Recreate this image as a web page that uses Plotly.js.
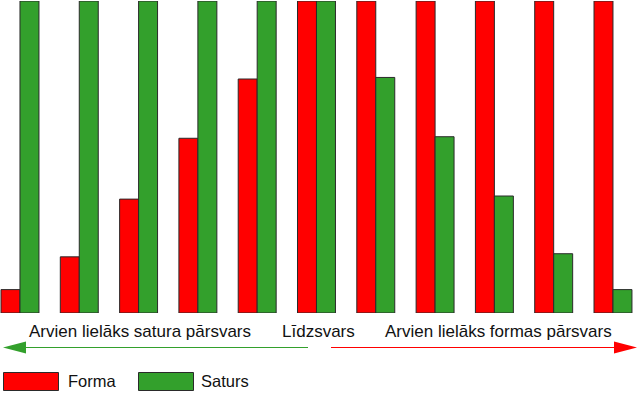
<!DOCTYPE html>
<html><head><meta charset="utf-8">
<script src="https://cdn.plot.ly/plotly-3.0.1.min.js"></script>
<style>html,body{margin:0;padding:0;background:#fff}#chart{width:637px;height:393px}</style>
</head><body><div id="chart"></div>
<script>
const categories = ['1','2','3','4','5','6','7','8','9','10','11'];
const forma  = [7.5, 18, 36.5, 56, 75, 100, 100, 100, 100, 100, 100];
const saturs = [100, 100, 100, 100, 100, 100, 75.5, 56.5, 37.5, 19, 7.5];
const seriesNames = ['Forma', 'Saturs'];
const scaleLabels = ['Arvien lielāks satura pārsvars', 'Līdzsvars', 'Arvien lielāks formas pārsvars'];

const RED = '#ff0000', GREEN = '#33a02c', EDGE = '#2a2a2a';
const W = 637, H = 393, T = 1, B = 80, PH = H - T - B;
const px = x => x / W;
const py = y => (T + PH - y) / PH;

const traces = [
  {type:'bar', x:categories, y:forma, name:seriesNames[0], marker:{color:RED, line:{color:EDGE, width:1}}, hoverinfo:'skip'},
  {type:'bar', x:categories, y:saturs, name:seriesNames[1], marker:{color:GREEN, line:{color:EDGE, width:1}}, hoverinfo:'skip'}
];

const shapes = [
  {type:'line', xref:'paper', yref:'paper', x0:px(308), x1:px(22), y0:py(347.5), y1:py(347.5), line:{color:GREEN, width:1}},
  {type:'path', xref:'paper', yref:'paper', path:`M ${px(3)} ${py(347.5)} L ${px(26)} ${py(341.5)} L ${px(26)} ${py(353.5)} Z`, fillcolor:GREEN, line:{width:0}},
  {type:'line', xref:'paper', yref:'paper', x0:px(331), x1:px(616), y0:py(347.5), y1:py(347.5), line:{color:RED, width:1}},
  {type:'path', xref:'paper', yref:'paper', path:`M ${px(637)} ${py(347.5)} L ${px(614)} ${py(341.5)} L ${px(614)} ${py(353.5)} Z`, fillcolor:RED, line:{width:0}},
  {type:'rect', xref:'paper', yref:'paper', x0:px(3.5), x1:px(58.5), y0:py(372.5), y1:py(390.5), fillcolor:RED, line:{color:EDGE, width:1}},
  {type:'rect', xref:'paper', yref:'paper', x0:px(138.5), x1:px(193.5), y0:py(372.5), y1:py(390.5), fillcolor:GREEN, line:{color:EDGE, width:1}}
];

const labelFont = {family:'Liberation Sans, Arial, sans-serif', size:17, color:'#111'};
const legendFont = {family:'Liberation Sans, Arial, sans-serif', size:16.5, color:'#111'};
const ann = (text, x, y, anchor, font) => ({text, xref:'paper', yref:'paper', x:px(x), y:py(y), xanchor:anchor, yanchor:'middle', showarrow:false, font});
const annotations = [
  ann(scaleLabels[0], 140, 331, 'center', labelFont),
  ann(scaleLabels[1], 319, 331, 'center', labelFont),
  ann(scaleLabels[2], 498.5, 331, 'center', labelFont),
  ann(seriesNames[0], 66, 381.5, 'left', legendFont),
  ann(seriesNames[1], 199, 381.5, 'left', legendFont)
];

const layout = {
  width:W, height:H, margin:{l:0, r:0, t:T, b:B},
  paper_bgcolor:'#fff', plot_bgcolor:'#fff',
  barmode:'group', bargap:0.36, bargroupgap:0,
  showlegend:false,
  xaxis:{type:'category', range:[-0.337, 10.405], visible:false, fixedrange:true},
  yaxis:{range:[0, 100], visible:false, fixedrange:true},
  shapes, annotations
};
Plotly.newPlot('chart', traces, layout, {displayModeBar:false, staticPlot:true});
</script></body></html>
